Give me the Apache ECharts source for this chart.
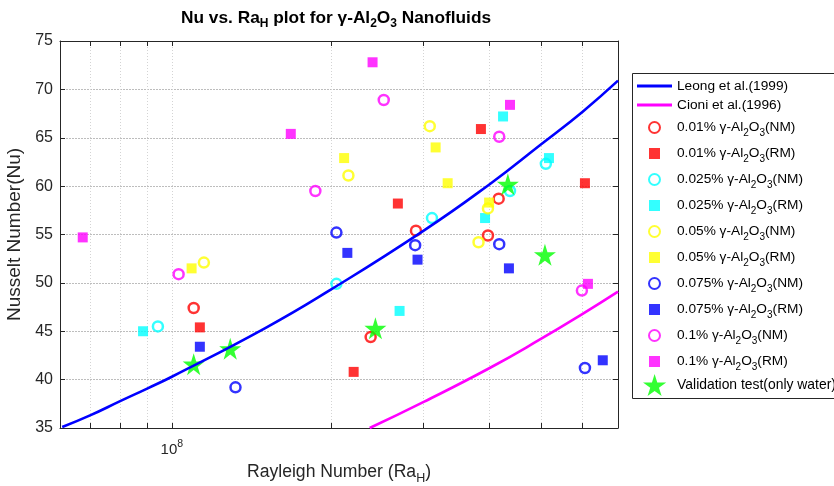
<!DOCTYPE html>
<html>
<head>
<meta charset="utf-8">
<script src="https://cdn.jsdelivr.net/npm/echarts@6/dist/echarts.min.js"></script>
<style>
  html, body { margin: 0; padding: 0; background: #fff; }
  #chartBox { width: 834px; height: 486px; }
</style>
</head>
<body>
<div id="chartBox"></div>
<script>
// data: [Rayleigh number, Nusselt number]
var leong = [[6.2e7, 35.1], [7e7, 36.3], [8e7, 37.8], [9e7, 39.1], [1e8, 40.3], [1.5e8, 45.3],
  [2e8, 49.3], [3e8, 55.4], [4e8, 60.2], [5e8, 64.3], [6e8, 67.7], [7e8, 70.9]];
var cioni = [[2.37e8, 35.0], [3e8, 37.7], [4e8, 41.2], [5e8, 44.2], [6e8, 46.8], [7e8, 49.1]];

var nm001 = [[1.10e8, 47.4], [2.38e8, 44.4], [2.90e8, 55.4], [3.97e8, 54.9], [4.16e8, 58.7]];
var rm001 = [[1.13e8, 45.4], [2.21e8, 40.8], [2.68e8, 58.2], [3.85e8, 65.9], [6.06e8, 60.3]];
var nm0025 = [[9.41e7, 45.5], [2.05e8, 49.9], [3.11e8, 56.7], [4.37e8, 59.5], [5.11e8, 62.3]];
var rm0025 = [[8.82e7, 45.0], [2.70e8, 47.1], [3.92e8, 56.7], [4.24e8, 67.2], [5.18e8, 62.9]];
var nm005 = [[1.15e8, 52.1], [2.16e8, 61.1], [3.08e8, 66.2], [3.81e8, 54.2], [3.97e8, 57.7]];
var rm005 = [[1.09e8, 51.5], [2.12e8, 62.9], [3.16e8, 64.0], [3.33e8, 60.3], [3.99e8, 58.3]];
var nm0075 = [[1.32e8, 39.2], [2.05e8, 55.2], [2.89e8, 53.9], [4.17e8, 54.0], [6.06e8, 41.2]];
var rm0075 = [[1.13e8, 43.4], [2.15e8, 53.1], [2.92e8, 52.4], [4.35e8, 51.5], [6.55e8, 42.0]];
var nm01 = [[1.03e8, 50.9], [1.87e8, 59.5], [2.52e8, 68.9], [4.17e8, 65.1], [5.98e8, 49.2]];
var rm01 = [[6.78e7, 54.7], [1.68e8, 65.4], [2.40e8, 72.8], [4.37e8, 68.4], [6.14e8, 49.9]];
var water = [[1.10e8, 41.6], [1.29e8, 43.2], [2.43e8, 45.3], [4.33e8, 60.2], [5.09e8, 52.9]];

var xTicks = [7e7, 8e7, 9e7, 1e8, 2e8, 3e8, 4e8, 5e8, 6e8];
var xLabels = [1e8];

var FONT = "Liberation Sans";
var AXIS = "#262626";
var STAR = "path://M50,0 L61,35 L98,35 L68,57 L79,91 L50,70 L21,91 L32,57 L2,35 L39,35 Z";
var SQUARE = "path://M0,0 H10 V10 H0 Z";
var BAR = "path://M0,0 H35 V3 H0 Z";

// legend text: "0.01% γ-Al2O3(NM)" with subscripts
function alName(pct, kind) {
  return pct + "% \u03b3-Al2O3(" + kind + ")";
}
function legendText(name) {
  if (name.indexOf("Al2O3") < 0) return name;
  var parts = name.split("Al2O3");
  return "{n|" + parts[0] + "Al}{s|2}{n|O}{s|3}{n|" + parts[1] + "}";
}

var groups = [
  { pct: "0.01", kind: "NM", data: nm001, color: "#ff0000" },
  { pct: "0.01", kind: "RM", data: rm001, color: "#ff0000" },
  { pct: "0.025", kind: "NM", data: nm0025, color: "#00ffff" },
  { pct: "0.025", kind: "RM", data: rm0025, color: "#00ffff" },
  { pct: "0.05", kind: "NM", data: nm005, color: "#ffff00" },
  { pct: "0.05", kind: "RM", data: rm005, color: "#ffff00" },
  { pct: "0.075", kind: "NM", data: nm0075, color: "#0000ff" },
  { pct: "0.075", kind: "RM", data: rm0075, color: "#0000ff" },
  { pct: "0.1", kind: "NM", data: nm01, color: "#ff00ff" },
  { pct: "0.1", kind: "RM", data: rm01, color: "#ff00ff" }
];

var series = [
  { name: "Leong et al.(1999)", type: "line", data: leong, smooth: true, symbol: "none",
    color: "#0000ff", lineStyle: { color: "#0000ff", width: 2.6 } },
  { name: "Cioni et al.(1996)", type: "line", data: cioni, smooth: true, symbol: "none",
    color: "#ff00ff", lineStyle: { color: "#ff00ff", width: 2.6 } }
];
var legendData = [
  { name: "Leong et al.(1999)", icon: BAR },
  { name: "Cioni et al.(1996)", icon: BAR }
];
groups.forEach(function (g) {
  var name = alName(g.pct, g.kind);
  var hollow = g.kind === "NM";
  series.push({
    name: name,
    type: "scatter",
    data: g.data,
    symbol: hollow ? "circle" : "rect",
    symbolSize: 10,
    itemStyle: hollow
      ? { color: "rgba(255,255,255,0)", borderColor: g.color, borderWidth: 2.5 }
      : { color: g.color }
  });
  legendData.push(hollow ? name : { name: name, icon: SQUARE });
});
series.push({
  name: "Validation test(only water)",
  type: "scatter",
  data: water,
  symbol: STAR,
  symbolSize: 22,
  itemStyle: { color: "#00ff00" }
});

var chart = echarts.init(document.getElementById("chartBox"), null, { renderer: "canvas" });

var option = {
  animation: false,
  backgroundColor: "#fff",
  title: {
    text: "{t|Nu vs. Ra}{s|H}{t| plot for \u03b3-Al}{s|2}{t|O}{s|3}{t| Nanofluids}",
    left: 176,
    top: 1,
    textStyle: {
      rich: {
        t: { fontFamily: FONT, fontSize: 17.3, fontWeight: "bold", color: "#000" },
        s: { fontFamily: FONT, fontSize: 12, fontWeight: "bold", color: "#000", padding: [12, 0, 0, 0] }
      }
    }
  },
  // legend frame runs past the right edge, as in the original
  graphic: [{
    type: "rect",
    left: 632, top: 73,
    shape: { width: 230, height: 325 },
    style: { fill: "#fff", stroke: "#262626", lineWidth: 1 },
    z: 0
  }],
  grid: { left: 60, right: 216, top: 41, bottom: 58, containLabel: false, outerBoundsMode: "none" },
  legend: [
    {
      orient: "vertical",
      left: 632,
      top: 73,
      data: legendData,
      itemWidth: 35,
      itemHeight: 11,
      itemGap: 3,
      padding: [5, 5, 27, 5],
      formatter: legendText,
      textStyle: {
        fontFamily: FONT, fontSize: 13.7, color: "#000", lineHeight: 16,
        rich: {
          n: { fontFamily: FONT, fontSize: 13.7, color: "#000", lineHeight: 23 },
          s: { fontFamily: FONT, fontSize: 10, color: "#000", padding: [11, 0, 0, 0] }
        }
      }
    },
    {
      orient: "vertical",
      left: 643,
      top: 374,
      data: [{ name: "Validation test(only water)", icon: STAR }],
      itemWidth: 35,
      itemHeight: 22,
      padding: 0,
      textStyle: { fontFamily: FONT, fontSize: 13.9, color: "#000" }
    }
  ],
  xAxis: [
    {
      type: "log",
      logBase: 10,
      min: 6.14e7,
      max: 7e8,
      name: "{t|Rayleigh Number (Ra}{s|H}{t|)}",
      nameLocation: "middle",
      nameGap: 32,
      nameTextStyle: {
        rich: {
          t: { fontFamily: FONT, fontSize: 17.6, color: AXIS },
          s: { fontFamily: FONT, fontSize: 12.5, color: AXIS, padding: [12, 0, 0, 0] }
        }
      },
      axisLine: { show: true, lineStyle: { color: AXIS, width: 1 } },
      axisTick: { show: true, inside: true, length: 5, customValues: xTicks, lineStyle: { color: AXIS } },
      axisLabel: {
        customValues: xLabels,
        margin: 11,
        formatter: function () { return "{b|10}{p|8}"; },
        rich: {
          b: { fontFamily: FONT, fontSize: 15, color: AXIS },
          p: { fontFamily: FONT, fontSize: 10.5, color: AXIS, padding: [0, 0, 10, 0] }
        }
      },
      splitLine: { show: true, lineStyle: { color: "#d4d4d4", type: [1, 2], width: 1 } }
    },
    {
      type: "log",
      logBase: 10,
      position: "top",
      min: 6.14e7,
      max: 7e8,
      axisLine: { show: true, lineStyle: { color: AXIS, width: 1 } },
      axisTick: { show: true, inside: true, length: 5, customValues: xTicks, lineStyle: { color: AXIS } },
      axisLabel: { show: false },
      splitLine: { show: false }
    }
  ],
  yAxis: [
    {
      type: "value",
      min: 35,
      max: 75,
      interval: 5,
      name: "Nusselt Number(Nu)",
      nameLocation: "middle",
      nameGap: 33,
      nameTextStyle: { fontFamily: FONT, fontSize: 19, color: AXIS },
      axisLine: { show: true, lineStyle: { color: AXIS, width: 1 } },
      axisTick: { show: true, inside: true, length: 5, lineStyle: { color: AXIS } },
      axisLabel: { fontFamily: FONT, fontSize: 16, color: AXIS, margin: 7 },
      splitLine: { show: true, lineStyle: { color: "#bdbdbd", type: [2, 1], width: 1 } }
    },
    {
      type: "value",
      position: "right",
      min: 35,
      max: 75,
      interval: 5,
      axisLine: { show: true, lineStyle: { color: AXIS, width: 1 } },
      axisTick: { show: true, inside: true, length: 5, lineStyle: { color: AXIS } },
      axisLabel: { show: false },
      splitLine: { show: false }
    }
  ],
  series: series
};

chart.setOption(option);
</script>
</body>
</html>
